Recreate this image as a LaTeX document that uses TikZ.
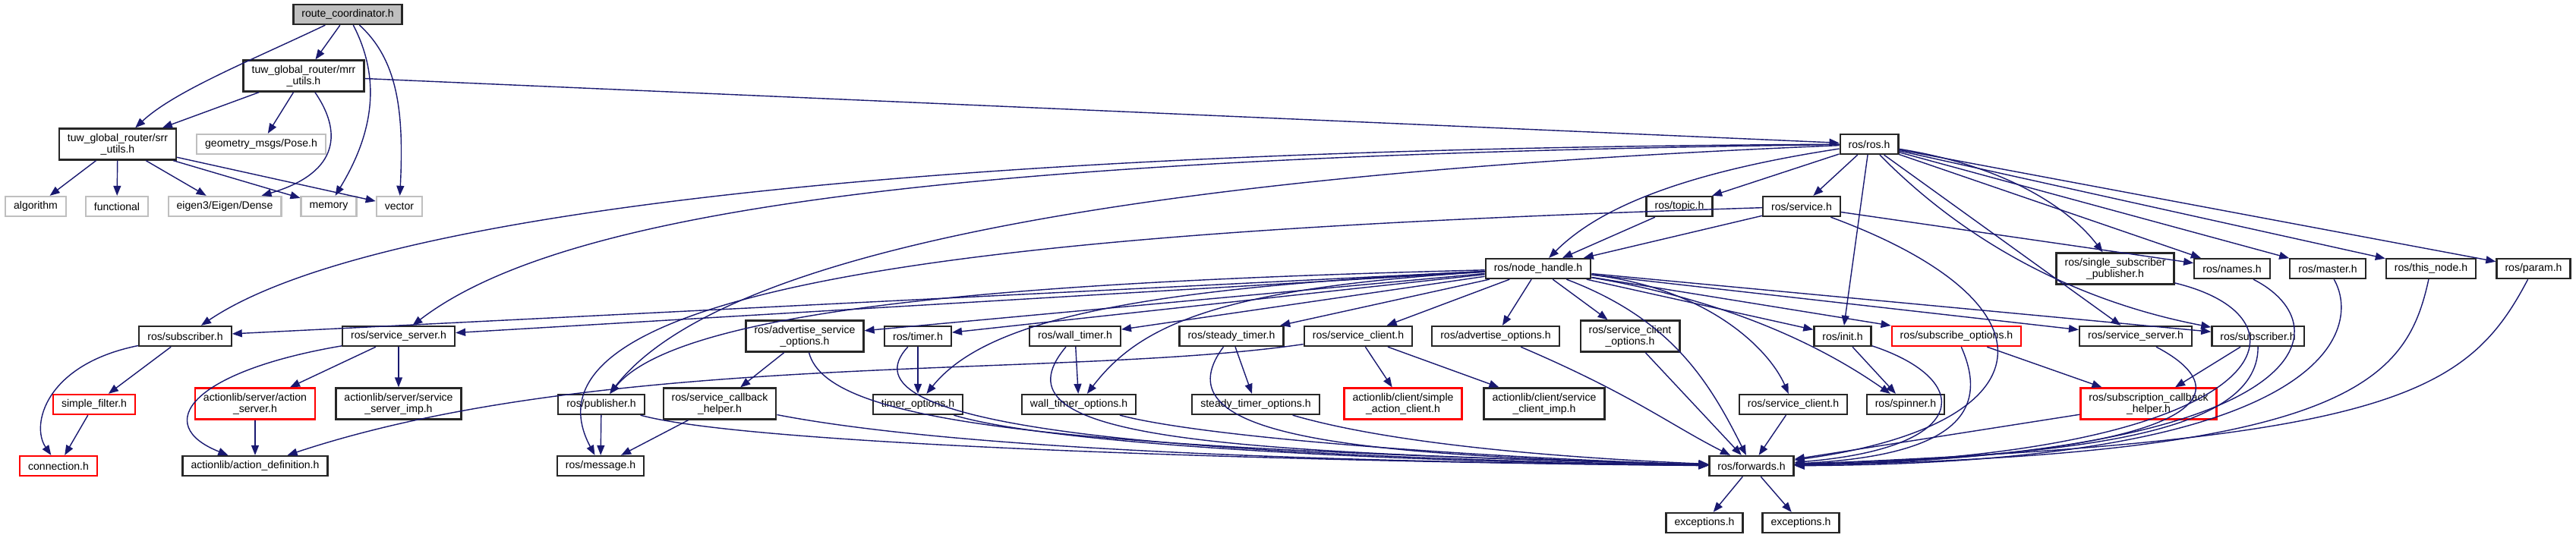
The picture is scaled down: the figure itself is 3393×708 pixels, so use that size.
\documentclass[tikz,border=0pt]{standalone}
\usepackage{fontspec}
\setmainfont{Liberation Sans}
\usetikzlibrary{arrows.meta}
\definecolor{edgeblue}{RGB}{25,25,112}
\definecolor{boxgray}{RGB}{191,191,191}

\begin{document}
\begin{tikzpicture}[
    x=0.01cm, y=-0.01cm,
    file node/.style={draw=black!85, line width=0.65pt, fill=white, inner xsep=0.11cm, inner ysep=0pt, minimum height=0.26cm, align=center, font=\fontsize{4}{4.3}\selectfont},
    two line/.style={minimum height=0.41cm},
    gray node/.style={file node, draw=boxgray},
    red node/.style={file node, draw=red},
    root node/.style={file node, fill=boxgray},
    include edge/.style={draw=edgeblue, line width=0.4pt, -{Triangle[length=1.3mm, width=1mm]}}
  ]
  \useasboundingbox (0,0) rectangle (3393,708);

  % Top rows
  \node[root node] (rc) at (458,19) {route\_coordinator.h};
  \node[file node, two line] (mrr) at (400,100) {tuw\_global\_router/mrr\\\_utils.h};
  \node[file node, two line] (srr) at (155,190) {tuw\_global\_router/srr\\\_utils.h};
  \node[gray node] (pose) at (344,190) {geometry\_msgs/Pose.h};
  \node[file node] (ros) at (2462,190) {ros/ros.h};

  % System headers
  \node[gray node] (algorithm) at (47,272) {algorithm};
  \node[gray node] (functional) at (154,272) {functional};
  \node[gray node] (dense) at (296,272) {eigen3/Eigen/Dense};
  \node[gray node] (memory) at (433,272) {memory};
  \node[gray node] (vector) at (526,272) {vector};
  \node[file node] (topic) at (2212,272) {ros/topic.h};
  \node[file node] (service) at (2373,272) {ros/service.h};

  % Node handle row
  \node[file node] (nh) at (2026,354) {ros/node\_handle.h};
  \node[file node, two line] (ssp) at (2786,354) {ros/single\_subscriber\\\_publisher.h};
  \node[file node] (names) at (2940,354) {ros/names.h};
  \node[file node] (master) at (3066,354) {ros/master.h};
  \node[file node] (thisnode) at (3202,354) {ros/this\_node.h};
  \node[file node] (param) at (3337,354) {ros/param.h};

  % Middle row
  \node[file node] (subL) at (244,443) {ros/subscriber.h};
  \node[file node] (ssrvL) at (525,443) {ros/service\_server.h};
  \node[file node, two line] (aso) at (1060,443) {ros/advertise\_service\\\_options.h};
  \node[file node] (timer) at (1209,443) {ros/timer.h};
  \node[file node] (wtimer) at (1416,443) {ros/wall\_timer.h};
  \node[file node] (stimer) at (1622,443) {ros/steady\_timer.h};
  \node[file node] (sclient) at (1789,443) {ros/service\_client.h};
  \node[file node] (aopt) at (1970,443) {ros/advertise\_options.h};
  \node[file node, two line] (scopt) at (2147,443) {ros/service\_client\\\_options.h};
  \node[file node] (init) at (2427,443) {ros/init.h};
  \node[red node] (subopt) at (2577,443) {ros/subscribe\_options.h};
  \node[file node] (ssrvR) at (2813,443) {ros/service\_server.h};
  \node[file node] (subR) at (2974,443) {ros/subscriber.h};

  % Lower row
  \node[red node] (sfilter) at (124,533) {simple\_filter.h};
  \node[red node, two line] (actsrv) at (336,532) {actionlib/server/action\\\_server.h};
  \node[file node, two line] (ssimp) at (525,532) {actionlib/server/service\\\_server\_imp.h};
  \node[file node] (pub) at (792,533) {ros/publisher.h};
  \node[file node, two line] (scbh) at (948,532) {ros/service\_callback\\\_helper.h};
  \node[file node] (topt) at (1209,533) {timer\_options.h};
  \node[file node] (wtopt) at (1421,533) {wall\_timer\_options.h};
  \node[file node] (stopt) at (1654,533) {steady\_timer\_options.h};
  \node[red node, two line] (sac) at (1848,532) {actionlib/client/simple\\\_action\_client.h};
  \node[file node, two line] (scimp) at (2034,532) {actionlib/client/service\\\_client\_imp.h};
  \node[file node] (sclient2) at (2362,533) {ros/service\_client.h};
  \node[file node] (spinner) at (2510,533) {ros/spinner.h};
  \node[red node, two line] (subcbh) at (2830,532) {ros/subscription\_callback\\\_helper.h};

  % Bottom rows
  \node[red node] (conn) at (77,614) {connection.h};
  \node[file node] (actdef) at (336,614) {actionlib/action\_definition.h};
  \node[file node] (msg) at (791,614) {ros/message.h};
  \node[file node] (fwd) at (2307,614) {ros/forwards.h};
  \node[file node] (exc1) at (2245,689) {exceptions.h};
  \node[file node] (exc2) at (2372,689) {exceptions.h};

  % route_coordinator.h and tuw headers
  \draw[include edge] (rc) -- (mrr);
  \draw[include edge] (rc) .. controls (330,80) and (230,120) .. (srr);
  \draw[include edge] (rc) .. controls (500,100) and (495,170) .. (memory);
  \draw[include edge] (rc) .. controls (525,80) and (532,150) .. (vector);
  \draw[include edge] (mrr) -- (srr);
  \draw[include edge] (mrr) -- (pose);
  \draw[include edge] (mrr) .. controls (455,180) and (440,230) .. (dense);
  \draw[include edge] (mrr) -- (ros);
  \draw[include edge] (srr) -- (algorithm);
  \draw[include edge] (srr) -- (functional);
  \draw[include edge] (srr) -- (dense);
  \draw[include edge] (srr) -- (memory);
  \draw[include edge] (srr) -- (vector);

  % ros/ros.h
  \draw[include edge] (ros) -- (topic);
  \draw[include edge] (ros) -- (service);
  \draw[include edge] (ros) .. controls (2200,230) and (2100,280) .. (nh);
  \draw[include edge] (ros) .. controls (1300,195) and (500,270) .. (subL);
  \draw[include edge] (ros) .. controls (1300,205) and (750,270) .. (ssrvL);
  \draw[include edge] (ros) .. controls (1500,230) and (950,330) .. (pub);
  \draw[include edge] (ros) -- (init);
  \draw[include edge] (ros) -- (ssrvR);
  \draw[include edge] (ros) .. controls (2600,330) and (2750,400) .. (subR);
  \draw[include edge] (ros) .. controls (2650,220) and (2730,280) .. (ssp);
  \draw[include edge] (ros) -- (names);
  \draw[include edge] (ros) -- (master);
  \draw[include edge] (ros) -- (thisnode);
  \draw[include edge] (ros) -- (param);

  % ros/topic.h and ros/service.h
  \draw[include edge] (topic) -- (nh);
  \draw[include edge] (service) -- (nh);
  \draw[include edge] (service) .. controls (1500,300) and (650,350) .. (msg);
  \draw[include edge] (service) -- (names);
  \draw[include edge] (service) .. controls (2720,400) and (2700,560) .. (fwd);

  % ros/node_handle.h
  \draw[include edge] (nh) -- (subL);
  \draw[include edge] (nh) -- (ssrvL);
  \draw[include edge] (nh) .. controls (1400,370) and (900,400) .. (pub);
  \draw[include edge] (nh) -- (aso);
  \draw[include edge] (nh) -- (timer);
  \draw[include edge] (nh) .. controls (1500,380) and (1300,420) .. (topt);
  \draw[include edge] (nh) -- (wtimer);
  \draw[include edge] (nh) .. controls (1600,380) and (1500,430) .. (wtopt);
  \draw[include edge] (nh) -- (stimer);
  \draw[include edge] (nh) -- (sclient);
  \draw[include edge] (nh) -- (aopt);
  \draw[include edge] (nh) -- (scopt);
  \draw[include edge] (nh) .. controls (2200,420) and (2250,500) .. (fwd);
  \draw[include edge] (nh) .. controls (2250,380) and (2330,460) .. (sclient2);
  \draw[include edge] (nh) .. controls (2300,400) and (2420,470) .. (spinner);
  \draw[include edge] (nh) -- (init);
  \draw[include edge] (nh) -- (subopt);
  \draw[include edge] (nh) -- (ssrvR);
  \draw[include edge] (nh) -- (subR);

  % Right side headers
  \draw[include edge] (init) -- (spinner);
  \draw[include edge] (init) .. controls (2600,500) and (2600,590) .. (fwd);
  \draw[include edge] (subopt) -- (subcbh);
  \draw[include edge] (subopt) .. controls (2620,540) and (2580,600) .. (fwd);
  \draw[include edge] (subR) -- (subcbh);
  \draw[include edge] (subR) .. controls (2975,580) and (2700,600) .. (fwd);
  \draw[include edge] (ssrvR) .. controls (2960,520) and (2900,600) .. (fwd);
  \draw[include edge] (subcbh) -- (fwd);
  \draw[include edge] (ssp) .. controls (3060,420) and (3000,600) .. (fwd);
  \draw[include edge] (names) .. controls (3090,430) and (3050,600) .. (fwd);
  \draw[include edge] (master) .. controls (3110,430) and (3080,610) .. (fwd);
  \draw[include edge] (thisnode) .. controls (3170,500) and (3100,600) .. (fwd);
  \draw[include edge] (param) .. controls (3250,520) and (3150,580) .. (fwd);
  \draw[include edge] (sclient2) -- (fwd);
  \draw[include edge] (scopt) -- (fwd);
  \draw[include edge] (aopt) .. controls (2150,520) and (2200,560) .. (fwd);

  % Service client
  \draw[include edge] (sclient) -- (sac);
  \draw[include edge] (sclient) -- (scimp);
  \draw[include edge] (sclient) .. controls (1400,500) and (800,460) .. (actdef);

  % Publisher, timers and options
  \draw[include edge] (pub) -- (msg);
  \draw[include edge] (pub) .. controls (1000,590) and (1800,610) .. (fwd);
  \draw[include edge] (scbh) -- (msg);
  \draw[include edge] (scbh) .. controls (1300,600) and (1900,610) .. (fwd);
  \draw[include edge] (aso) -- (scbh);
  \draw[include edge] (aso) .. controls (1090,560) and (1400,590) .. (fwd);
  \draw[include edge] (timer) -- (topt);
  \draw[include edge] (timer) .. controls (1100,560) and (1500,600) .. (fwd);
  \draw[include edge] (topt) .. controls (1400,590) and (1900,610) .. (fwd);
  \draw[include edge] (wtimer) -- (wtopt);
  \draw[include edge] (wtimer) .. controls (1300,580) and (1600,595) .. (fwd);
  \draw[include edge] (wtopt) .. controls (1600,580) and (2000,605) .. (fwd);
  \draw[include edge] (stimer) -- (stopt);
  \draw[include edge] (stimer) .. controls (1520,580) and (1800,600) .. (fwd);
  \draw[include edge] (stopt) .. controls (1850,590) and (2100,605) .. (fwd);
  \draw[include edge] (fwd) -- (exc1);
  \draw[include edge] (fwd) -- (exc2);

  % Left side headers
  \draw[include edge] (subL) -- (sfilter);
  \draw[include edge] (subL) .. controls (60,480) and (40,560) .. (conn);
  \draw[include edge] (sfilter) -- (conn);
  \draw[include edge] (ssrvL) -- (actsrv);
  \draw[include edge] (ssrvL) -- (ssimp);
  \draw[include edge] (ssrvL) .. controls (250,490) and (200,560) .. (actdef);
  \draw[include edge] (actsrv) -- (actdef);

\end{tikzpicture}
\end{document}
